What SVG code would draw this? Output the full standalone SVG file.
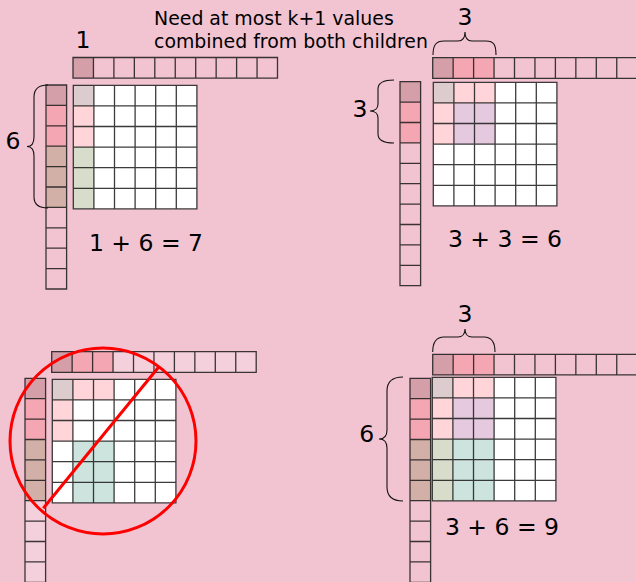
<svg xmlns="http://www.w3.org/2000/svg" xmlns:xlink="http://www.w3.org/1999/xlink" width="636" height="582" viewBox="0 0 636 582">
<style>
.ln{fill:none;stroke:#1a1a1a;stroke-opacity:0.85;stroke-width:1.3}
.br{fill:none;stroke:#111;stroke-width:1.1}
.t{font-family:"DejaVu Sans","Liberation Sans",sans-serif;fill:#000}
.num{font-size:23.5px;text-anchor:middle}
.note{font-size:18.9px}
.dk{fill:#d49fa9}.pk{fill:#f4a7b2}.tn{fill:#d2b0a8}
.gy{fill:#dccccd}.lp{fill:#ffd5d9}.gr{fill:#d8dccb}.lv{fill:#e5c9de}.tl{fill:#cce3de}
.wh{fill:#ffffff}.fd{fill:#f4d0dc}
.red{fill:none;stroke:#ff0000;stroke-width:3}
</style>
<defs>
<path id="g6" class="ln" d="M0,0H123.6V123.6H0Z M20.6,0V123.6 M41.2,0V123.6 M61.8,0V123.6 M82.4,0V123.6 M103,0V123.6 M0,20.6H123.6 M0,41.2H123.6 M0,61.8H123.6 M0,82.4H123.6 M0,103H123.6"/>
<path id="r10" class="ln" d="M0,0H204.5V20.6H0Z M20.45,0V20.6 M40.9,0V20.6 M61.35,0V20.6 M81.8,0V20.6 M102.25,0V20.6 M122.7,0V20.6 M143.15,0V20.6 M163.6,0V20.6 M184.05,0V20.6"/>
<path id="c10" class="ln" d="M0,0H20.6V204H0Z M0,20.4H20.6 M0,40.8H20.6 M0,61.2H20.6 M0,81.6H20.6 M0,102H20.6 M0,122.4H20.6 M0,142.8H20.6 M0,163.2H20.6 M0,183.6H20.6"/>
</defs>
<rect width="636" height="582" fill="#f2c4d2"/>
<text class="t note" x="154" y="25">Need at most k+1 values</text>
<text class="t note" x="154" y="48.3">combined from both children</text>

<g id="panel1">
  <g transform="translate(73,57.5)">
    <rect class="dk" x="0" y="0" width="20.45" height="20.6"/>
    <use href="#r10"/>
  </g>
  <g transform="translate(46,85)">
    <rect class="dk" x="0" y="0" width="20.6" height="20.4"/>
    <rect class="pk" x="0" y="20.4" width="20.6" height="40.8"/>
    <rect class="tn" x="0" y="61.2" width="20.6" height="61.2"/>
    <use href="#c10"/>
  </g>
  <g transform="translate(73.3,85.3)">
    <rect class="wh" width="123.6" height="123.6"/>
    <rect class="gy" x="0" y="0" width="20.6" height="20.6"/>
    <rect class="lp" x="0" y="20.6" width="20.6" height="41.2"/>
    <rect class="gr" x="0" y="61.8" width="20.6" height="61.8"/>
    <use href="#g6"/>
  </g>
  <path class="br" d="M48,85 C39,85 34,88 34,97 L34,137 C34,144 31,146.5 27,146.5 C31,146.5 34,149 34,156 L34,197 C34,205 39,208 48,208"/>
  <text class="t num" x="83" y="48">1</text>
  <text class="t num" x="13" y="149">6</text>
  <text class="t num" x="146" y="250.5">1 + 6 = 7</text>
</g>

<g id="panel2">
  <g transform="translate(432.7,57.7)">
    <rect class="dk" x="0" y="0" width="20.45" height="20.6"/>
    <rect class="pk" x="20.45" y="0" width="40.9" height="20.6"/>
    <use href="#r10"/>
  </g>
  <g transform="translate(400,81.7)">
    <rect class="dk" x="0" y="0" width="20.6" height="20.4"/>
    <rect class="pk" x="0" y="20.4" width="20.6" height="40.8"/>
    <use href="#c10"/>
  </g>
  <g transform="translate(433.3,82.3)">
    <rect class="wh" width="123.6" height="123.6"/>
    <rect class="gy" x="0" y="0" width="20.6" height="20.6"/>
    <rect class="lp" x="0" y="20.6" width="20.6" height="41.2"/>
    <rect class="lp" x="20.6" y="0" width="41.2" height="20.6"/>
    <rect class="lv" x="20.6" y="20.6" width="41.2" height="41.2"/>
    <use href="#g6"/>
  </g>
  <path class="br" d="M433,55 C433,45 436,41 444,41 L458,41 C462,41 465,38 465,32 C465,38 468,41 472,41 L486,41 C494,41 496,45 496,55"/>
  <path class="br" d="M394,80 C385,80 378,82 378,89 L378,104 C378,108 375,111 370,111 C375,111 378,114 378,118 L378,134 C378,141 385,143 394,143"/>
  <text class="t num" x="465" y="25">3</text>
  <text class="t num" x="360" y="116.7">3</text>
  <text class="t num" x="505" y="246.7">3 + 3 = 6</text>
</g>

<g id="panel3">
  <g transform="translate(51.7,351.7)">
    <rect class="fd" width="204.5" height="20.6"/>
    <rect class="dk" x="0" y="0" width="20.45" height="20.6"/>
    <rect class="pk" x="20.45" y="0" width="40.9" height="20.6"/>
    <use href="#r10"/>
  </g>
  <g transform="translate(25,378.3)">
    <rect class="fd" width="20.6" height="204"/>
    <rect class="dk" x="0" y="0" width="20.6" height="20.4"/>
    <rect class="pk" x="0" y="20.4" width="20.6" height="40.8"/>
    <rect class="tn" x="0" y="61.2" width="20.6" height="61.2"/>
    <use href="#c10"/>
  </g>
  <g transform="translate(52.3,379.3)">
    <rect class="wh" width="123.6" height="123.6"/>
    <rect class="gy" x="0" y="0" width="20.6" height="20.6"/>
    <rect class="lp" x="0" y="20.6" width="20.6" height="41.2"/>
    <rect class="lp" x="20.6" y="0" width="41.2" height="20.6"/>
    <rect class="tl" x="20.6" y="61.8" width="41.2" height="61.8"/>
    <use href="#g6"/>
  </g>
</g>

<g id="panel4">
  <g transform="translate(432.7,354.3)">
    <rect class="dk" x="0" y="0" width="20.45" height="20.6"/>
    <rect class="pk" x="20.45" y="0" width="40.9" height="20.6"/>
    <use href="#r10"/>
  </g>
  <g transform="translate(410,378.3)">
    <rect class="dk" x="0" y="0" width="20.6" height="20.4"/>
    <rect class="pk" x="0" y="20.4" width="20.6" height="40.8"/>
    <rect class="tn" x="0" y="61.2" width="20.6" height="61.2"/>
    <use href="#c10"/>
  </g>
  <g transform="translate(432.3,377.3)">
    <rect class="wh" width="123.6" height="123.6"/>
    <rect class="gy" x="0" y="0" width="20.6" height="20.6"/>
    <rect class="lp" x="0" y="20.6" width="20.6" height="41.2"/>
    <rect class="lp" x="20.6" y="0" width="41.2" height="20.6"/>
    <rect class="lv" x="20.6" y="20.6" width="41.2" height="41.2"/>
    <rect class="gr" x="0" y="61.8" width="20.6" height="61.8"/>
    <rect class="tl" x="20.6" y="61.8" width="41.2" height="61.8"/>
    <use href="#g6"/>
  </g>
  <path class="br" d="M432.7,352 C432.7,342 436,337 444,337 L458,337 C462,337 465,334 465,329 C465,334 468,337 472,337 L484,337 C492,337 495,342 495,352"/>
  <path class="br" d="M403,377 C393,377 387,381 387,391 L387,430 C387,436 384,439 379,439 C384,439 387,442 387,448 L387,487 C387,497 393,501 403,501"/>
  <text class="t num" x="465" y="321.7">3</text>
  <text class="t num" x="366.7" y="441.5">6</text>
  <text class="t num" x="502" y="535">3 + 6 = 9</text>
</g>

<g id="connectors">
  <circle class="red" cx="103" cy="441" r="93"/>
  <line class="red" x1="43.3" y1="508.3" x2="158.3" y2="367.5"/>
</g>
</svg>
